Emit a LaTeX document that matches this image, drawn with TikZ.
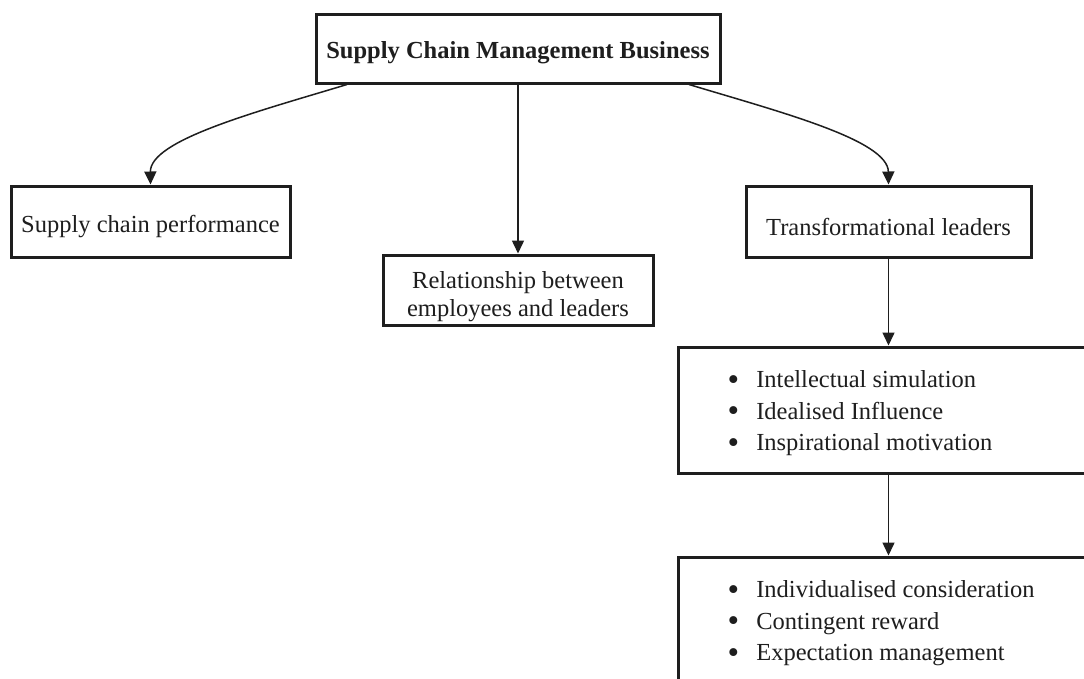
\documentclass[tikz,border=0pt]{standalone}
\usepackage{fontspec}
\setmainfont{Liberation Serif}
\usetikzlibrary{arrows.meta}
\definecolor{ink}{HTML}{1E1E1E}
% shift a label down inside its box without changing the box's size
\newcommand\sunk[2]{\raisebox{-#1}[\height][\depth]{#2}}
% larger list bullet, kept centred on the x-height
\newcommand\blt{\raisebox{-2.5pt}{\scalebox{1.35}{\textbullet}}}
\begin{document}
\begin{tikzpicture}[x=1pt,y=-1pt,
  txt/.style={text=ink, font=\fontsize{24.5}{29}\selectfont},
  box/.style={txt, draw=ink, line width=3pt, inner sep=0pt},
  conn/.style={draw=ink, line width=1.5pt, -{Triangle[width=12pt,length=13pt]}}]
  % canvas
  \fill[white] (0,0) rectangle (1084,678);
  \useasboundingbox (0,0) rectangle (1084,678);
  \clip (0,0) rectangle (1084,678);

  % boxes
  \node[box, minimum width=404pt, minimum height=69pt] (top) at (518,48.5)
    {\sunk{4pt}{\bfseries Supply Chain Management Business}};
  \node[box, minimum width=279pt, minimum height=71pt] (scp) at (150.5,221.5)
    {\sunk{5pt}{Supply chain performance}};
  \node[box, minimum width=270pt, minimum height=70pt] (rel) at (518,290)
    {\sunk{7pt}{\renewcommand\arraystretch{0.97}%
      \begin{tabular}{@{}c@{}}Relationship between\\employees and leaders\end{tabular}}};
  \node[box, minimum width=285pt, minimum height=71pt] (trans) at (888.5,221.5)
    {\sunk{5pt}{Transformational leaders}};
  \node[box, minimum width=422pt, minimum height=126pt] (b1) at (889,410) {};
  \node[box, minimum width=422pt, minimum height=143pt] (b2) at (889,628.5) {};

  % bullet lists
  \node[txt, anchor=west, inner sep=0pt] (l1) at (727.5,413)
    {\renewcommand\arraystretch{1.08}%
     \begin{tabular}{@{}l@{\hspace{17pt}}l@{}}
      \blt & Intellectual simulation\\
      \blt & Idealised Influence\\
      \blt & Inspirational motivation
    \end{tabular}};
  \node[txt, anchor=west, inner sep=0pt] (l2) at (727.5,623)
    {\renewcommand\arraystretch{1.08}%
     \begin{tabular}{@{}l@{\hspace{17pt}}l@{}}
      \blt & Individualised consideration\\
      \blt & Contingent reward\\
      \blt & Expectation management
    \end{tabular}};

  % connectors
  \draw[conn] ([xshift=-171pt]top.south) .. controls (256,112) and (150,140) .. (scp.north);
  \draw[conn] (top.south) -- (rel.north);
  \draw[conn] ([xshift=171pt]top.south) .. controls (780,112) and (888,140) .. (trans.north);
  \draw[conn] (trans.south) -- (trans.south |- b1.north);
  \draw[conn] (trans.south |- b1.south) -- (trans.south |- b2.north);
\end{tikzpicture}
\end{document}
